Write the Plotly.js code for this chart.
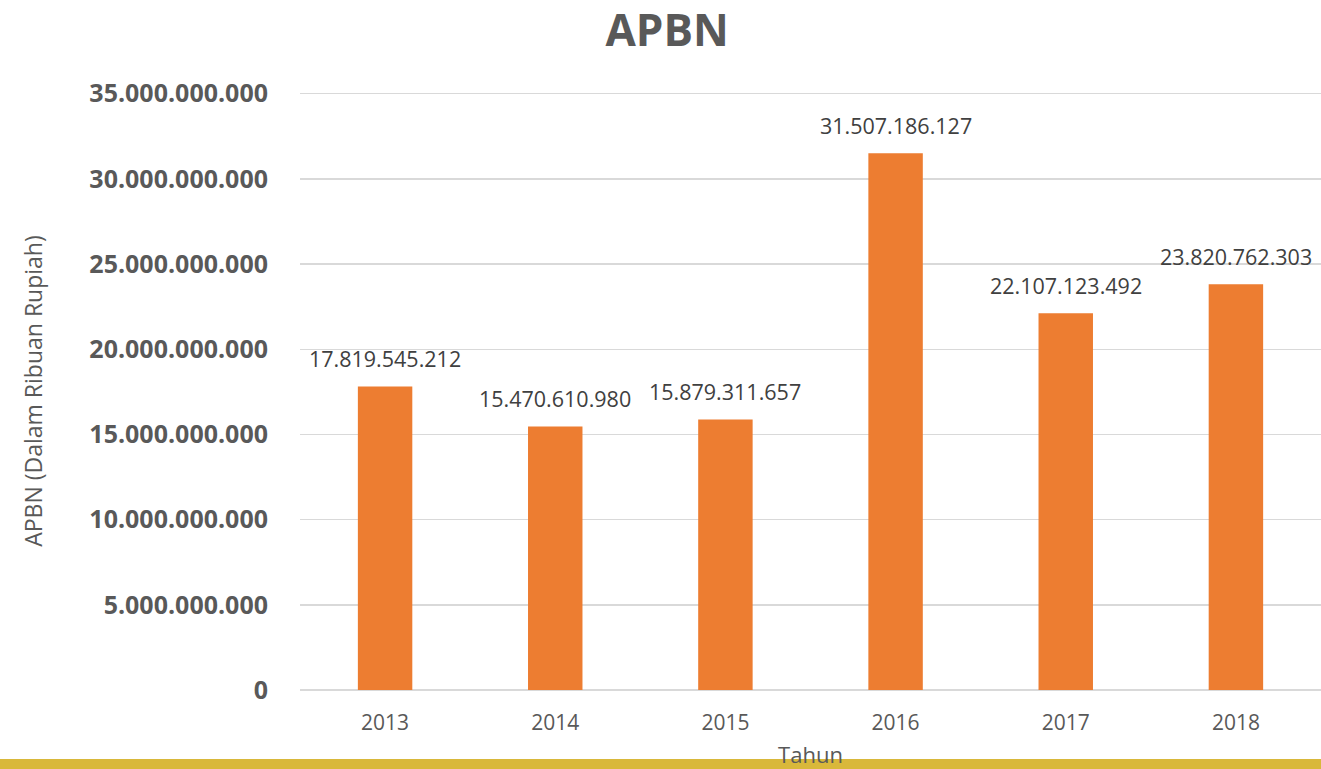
<!DOCTYPE html>
<html>
<head>
<meta charset="utf-8">
<script src="https://cdn.plot.ly/plotly-3.0.1.min.js"></script>
<style>
  html, body { margin: 0; padding: 0; background: #ffffff; }
  #wrap { position: relative; width: 1321px; height: 769px; overflow: hidden; }
  #band { position: absolute; left: 0; bottom: 0; width: 1321px; height: 10px; background: #D9B83A; z-index: 0; }
  #chart { position: absolute; left: 0; top: 0; width: 1321px; height: 769px; z-index: 1; }
</style>
</head>
<body>
<div id="wrap">
  <div id="band"></div>
  <div id="chart"></div>
</div>
<script>
const years = ["2013", "2014", "2015", "2016", "2017", "2018"];
const apbn = [17819545212, 15470610980, 15879311657, 31507186127, 22107123492, 23820762303];
const valueLabels = ["17.819.545.212", "15.470.610.980", "15.879.311.657", "31.507.186.127", "22.107.123.492", "23.820.762.303"];
const tickVals = [0, 5000000000, 10000000000, 15000000000, 20000000000, 25000000000, 30000000000, 35000000000];
const tickText = ["0", "5.000.000.000", "10.000.000.000", "15.000.000.000", "20.000.000.000", "25.000.000.000", "30.000.000.000", "35.000.000.000"];

const trace = {
  type: 'bar',
  x: years,
  y: apbn,
  marker: { color: '#ED7D31' },
  hoverinfo: 'none'
};

// category axis: annotation x given as category index
const annotations = years.map((yr, i) => ({
  x: i, y: apbn[i], xref: 'x', yref: 'y',
  text: valueLabels[i], showarrow: false,
  yanchor: 'bottom', yshift: 11,
  font: { family: 'Open Sans, sans-serif', size: 21.5, color: '#404040' }
}));

const layout = {
  width: 1321, height: 769,
  margin: { l: 300, r: 0, t: 92, b: 79 },
  paper_bgcolor: 'rgba(0,0,0,0)',
  plot_bgcolor: 'rgba(0,0,0,0)',
  bargap: 0.68,
  showlegend: false,
  title: {
    text: '<b>APBN</b>',
    xref: 'container', x: 0.505, xanchor: 'center',
    yref: 'container', y: 0.96, yanchor: 'middle',
    font: { family: 'Open Sans, sans-serif', size: 44, color: '#595959' }
  },
  xaxis: {
    type: 'category',
    categoryorder: 'array', categoryarray: years,
    range: [-0.5, 5.5], autorange: false,
    showgrid: false, zeroline: false, showline: false,
    ticks: 'outside', ticklen: 14, tickcolor: 'rgba(0,0,0,0)',
    tickfont: { family: 'Open Sans, sans-serif', size: 21, color: '#595959' },
    title: { text: 'Tahun', standoff: 18,
      font: { family: 'Open Sans, sans-serif', size: 22, color: '#595959' } }
  },
  yaxis: {
    range: [0, 35100000000], autorange: false,
    tickmode: 'array', tickvals: tickVals, ticktext: tickText,
    showgrid: true, gridcolor: '#D9D9D9', gridwidth: 1.5,
    zeroline: true, zerolinecolor: '#D9D9D9', zerolinewidth: 1.5,
    showline: false, ticks: 'outside', ticklen: 26, tickcolor: 'rgba(0,0,0,0)',
    tickfont: { family: 'Open Sans, sans-serif', size: 25, color: '#595959', weight: 'bold' },
    title: { text: 'APBN (Dalam Ribuan Rupiah)', standoff: 40,
      font: { family: 'Open Sans, sans-serif', size: 23, color: '#595959' } }
  },
  annotations: annotations
};

Plotly.newPlot('chart', [trace], layout, { staticPlot: true, displayModeBar: false });
</script>
</body>
</html>
